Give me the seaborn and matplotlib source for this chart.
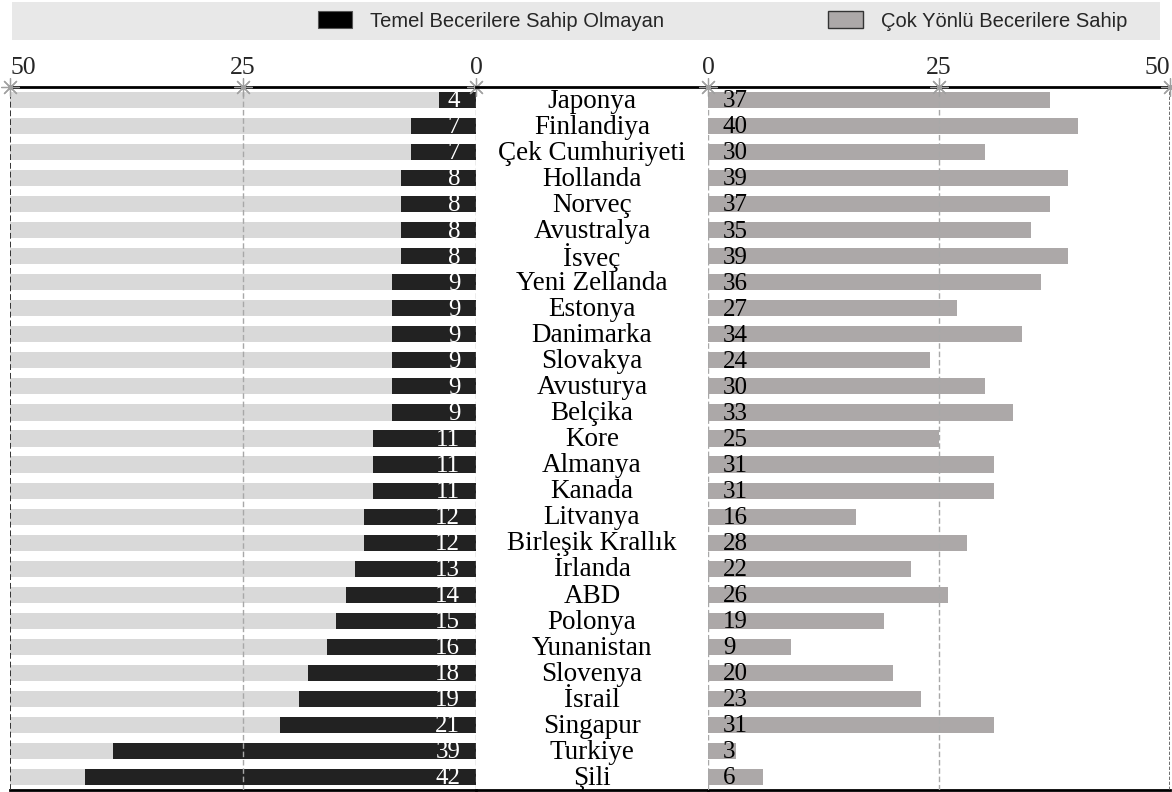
import matplotlib
matplotlib.use("Agg")
import matplotlib.pyplot as plt
import matplotlib.transforms as mtransforms
from matplotlib.patches import Rectangle, Patch
import pandas as pd
import seaborn as sns

# --- data -------------------------------------------------------------
countries = [
    "Japonya", "Finlandiya", "Çek Cumhuriyeti", "Hollanda", "Norveç",
    "Avustralya", "İsveç", "Yeni Zellanda", "Estonya", "Danimarka",
    "Slovakya", "Avusturya", "Belçika", "Kore", "Almanya", "Kanada",
    "Litvanya", "Birleşik Krallık", "İrlanda", "ABD", "Polonya",
    "Yunanistan", "Slovenya", "İsrail", "Singapur", "Turkiye", "Şili",
]
temel = [4, 7, 7, 8, 8, 8, 8, 9, 9, 9, 9, 9, 9, 11, 11, 11, 12, 12, 13, 14,
         15, 16, 18, 19, 21, 39, 42]
cok_yonlu = [37, 40, 30, 39, 37, 35, 39, 36, 27, 34, 24, 30, 33, 25, 31, 31,
             16, 28, 22, 26, 19, 9, 20, 23, 31, 3, 6]
scale_max = 50
tick_values = [0, 25, 50]
legend_labels = ["Temel Becerilere Sahip Olmayan", "Çok Yönlü Becerilere Sahip"]

df = pd.DataFrame({
    "ulke": countries,
    "temel": temel,
    "cok": cok_yonlu,
    "tam": [scale_max] * len(countries),
})

# --- style ------------------------------------------------------------
sns.set_style("white")
plt.rcParams["font.family"] = ["Liberation Serif", "DejaVu Serif"]

DARK = "#222222"
LIGHT = "#d9d9d9"
GREY = "#aca8a8"
GRID = "#a8a8a8"

W, H = 1172, 792
fig = plt.figure(figsize=(W / 100, H / 100), dpi=100)

top_px, bot_px = 87, 790
y0 = 1 - bot_px / H
hgt = (bot_px - top_px) / H
axL = fig.add_axes([10 / W, y0, (476 - 10) / W, hgt])
axM = fig.add_axes([476 / W, y0, (708 - 476) / W, hgt])
axR = fig.add_axes([708 / W, y0, (1170 - 708) / W, hgt])

n = len(countries)
bar_w = 0.62

# left panel: full-scale background bars + share without basic skills
sns.barplot(data=df, x="tam", y="ulke", color=LIGHT, width=bar_w,
            saturation=1, orient="h", ax=axL, zorder=1)
sns.barplot(data=df, x="temel", y="ulke", color=DARK, width=bar_w,
            saturation=1, orient="h", ax=axL, zorder=2)
# right panel: share with versatile skills
sns.barplot(data=df, x="cok", y="ulke", color=GREY, width=bar_w,
            saturation=1, orient="h", ax=axR, zorder=2)

for p in axL.patches + axR.patches:
    p.set_edgecolor("none")

axL.set_xlim(scale_max, 0)
axR.set_xlim(0, scale_max)
axM.set_xlim(0, 1)
for ax in (axL, axM, axR):
    ax.set_ylim(n - 0.5, -0.5)
    ax.set_ylabel("")
    ax.set_xlabel("")
    ax.set_yticks([])
    ax.set_facecolor("none")
    for side in ("left", "right"):
        ax.spines[side].set_visible(False)
    for side in ("top", "bottom"):
        ax.spines[side].set_visible(True)
        ax.spines[side].set_linewidth(2)
        ax.spines[side].set_color("black")
axM.set_xticks([])

# value labels
for i, v in enumerate(temel):
    axL.text(1.7, i + 0.05, f"{v}", ha="right", va="center", color="white",
             fontsize=18, zorder=4)
for i, v in enumerate(cok_yonlu):
    axR.text(1.6, i + 0.05, f"{v}", ha="left", va="center", color="black",
             fontsize=18, zorder=4)
for i, c in enumerate(countries):
    axM.text(0.5, i + 0.05, c, ha="center", va="center", color="black",
             fontsize=19.5)

# vertical reference lines
for ax in (axL, axR):
    ax.axvline(25, color=GRID, lw=1, ls=(0, (4, 2)), zorder=3)
    ax.axvline(0, color=GRID, lw=1, ls=(0, (4, 2)), zorder=3)
axL.axvline(scale_max, color="#333333", lw=1.4, ls=(0, (3, 1.5)), zorder=3)
axR.axvline(scale_max, color="#555555", lw=1.2, ls=(0, (2, 1)), zorder=3)

# top scale
for ax, edge_ha in ((axL, "left"), (axR, "right")):
    ax.xaxis.tick_top()
    ax.set_xticks(tick_values)
    ax.set_xticklabels([str(t) for t in tick_values])
    ax.tick_params(axis="x", length=0, pad=6, labelsize=18.5)
    for lbl in ax.get_xticklabels():
        if lbl.get_text() == str(scale_max):
            lbl.set_ha(edge_ha)
    trans = mtransforms.blended_transform_factory(ax.transData, ax.transAxes)
    ax.plot(tick_values, [1] * len(tick_values), transform=trans, ls="none",
            marker=(8, 2, 0), markersize=13, mec="#a0a0a0", mew=0.9,
            clip_on=False, zorder=5)

# legend band
fig.add_artist(Rectangle((12 / W, 1 - 40 / H), (1160 - 12) / W, 38 / H,
                         transform=fig.transFigure, facecolor="#e8e8e8",
                         edgecolor="none", zorder=0))
handles = [Patch(facecolor="black", edgecolor="#555555", lw=0.8),
           Patch(facecolor=GREY, edgecolor="#333333", lw=1)]
fig.legend(handles, legend_labels, ncol=2, loc="center left",
           bbox_to_anchor=(318 / W, 1 - 21 / H), frameon=False,
           borderpad=0, borderaxespad=0, handlelength=1.7, handleheight=0.85,
           handletextpad=0.9, columnspacing=8.15,
           prop={"family": "Liberation Sans", "size": 14.5})

fig.savefig("out.png", dpi=100)
